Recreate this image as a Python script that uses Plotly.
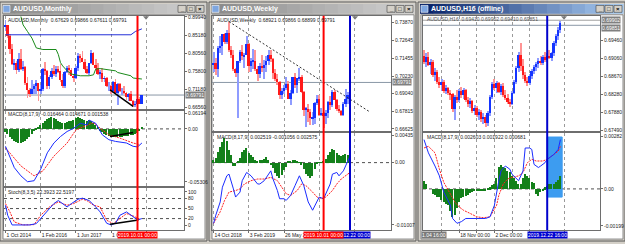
import plotly.graph_objects as go

W, H = 625, 244

# ================= DATA =================
# --- Window 1: AUDUSD,Monthly, bars Oct 2014 .. Dec 2019 ---
m_open = [0.8744, 0.8800, 0.8508, 0.8164, 0.7780, 0.7815, 0.7620, 0.7916, 0.7650, 0.7710,
          0.7300, 0.7110, 0.7020, 0.7130, 0.7230, 0.7290, 0.7080, 0.7140, 0.7660, 0.7600,
          0.7230, 0.7450, 0.7600, 0.7520, 0.7650, 0.7600, 0.7380, 0.7210, 0.7580, 0.7670,
          0.7640, 0.7480, 0.7430, 0.7690, 0.7990, 0.7950, 0.7840, 0.7650, 0.7560, 0.7800,
          0.8060, 0.7760, 0.7670, 0.7530, 0.7560, 0.7400, 0.7420, 0.7230, 0.7230, 0.7080,
          0.7310, 0.7040, 0.7270, 0.7100, 0.7100, 0.7050, 0.6940, 0.7020, 0.6840, 0.6740,
          0.6750, 0.6895, 0.6763]
m_high = [0.8910, 0.8800, 0.8550, 0.8290, 0.7910, 0.7855, 0.8075, 0.8160, 0.7850, 0.7740,
          0.7440, 0.7170, 0.7380, 0.7270, 0.7385, 0.7300, 0.7240, 0.7680, 0.7835, 0.7630,
          0.7505, 0.7675, 0.7760, 0.7730, 0.7730, 0.7780, 0.7535, 0.7600, 0.7740, 0.7750,
          0.7680, 0.7520, 0.7720, 0.8065, 0.8040, 0.8125, 0.7900, 0.7730, 0.7815, 0.8135,
          0.8090, 0.7915, 0.7810, 0.7620, 0.7680, 0.7480, 0.7450, 0.7315, 0.7240, 0.7340,
          0.7390, 0.7295, 0.7295, 0.7170, 0.7205, 0.7070, 0.7030, 0.7080, 0.6860, 0.6840,
          0.6930, 0.6930, 0.6987]
m_low = [0.8640, 0.8461, 0.8032, 0.7752, 0.7626, 0.7533, 0.7590, 0.7630, 0.7600, 0.7235,
         0.6907, 0.6935, 0.7015, 0.7015, 0.7015, 0.6827, 0.7010, 0.7085, 0.7500, 0.7145,
         0.7135, 0.7410, 0.7480, 0.7440, 0.7540, 0.7310, 0.7160, 0.7160, 0.7540, 0.7490,
         0.7470, 0.7330, 0.7410, 0.7600, 0.7810, 0.7830, 0.7620, 0.7530, 0.7500, 0.7790,
         0.7760, 0.7640, 0.7500, 0.7410, 0.7310, 0.7310, 0.7200, 0.7085, 0.7020, 0.7050,
         0.7020, 0.6740, 0.7070, 0.6990, 0.7000, 0.6865, 0.6830, 0.6860, 0.6680, 0.6670,
         0.6670, 0.6755, 0.6761]
m_close = [0.8800, 0.8508, 0.8164, 0.7780, 0.7815, 0.7620, 0.7916, 0.7650, 0.7710, 0.7300,
           0.7110, 0.7020, 0.7130, 0.7230, 0.7290, 0.7080, 0.7140, 0.7660, 0.7600, 0.7230,
           0.7450, 0.7600, 0.7520, 0.7650, 0.7600, 0.7380, 0.7210, 0.7580, 0.7670, 0.7640,
           0.7480, 0.7430, 0.7690, 0.7990, 0.7950, 0.7840, 0.7650, 0.7560, 0.7800, 0.8060,
           0.7760, 0.7670, 0.7530, 0.7560, 0.7400, 0.7420, 0.7230, 0.7230, 0.7080, 0.7310,
           0.7040, 0.7270, 0.7100, 0.7100, 0.7050, 0.6940, 0.7020, 0.6840, 0.6740, 0.6750,
           0.6895, 0.6763, 0.6979]
# green step average (bar index, price)
m_ma_x = [7, 8, 10, 12, 14, 17, 23, 24, 25, 26, 28, 30, 34, 38, 40, 41, 43, 50, 51, 57, 58, 62]
m_ma_y = [0.9000, 0.8784, 0.8614, 0.8445, 0.8192, 0.8151, 0.8151, 0.8024, 0.7812, 0.7728, 0.7602,
          0.7518, 0.7475, 0.7475, 0.7500, 0.7645, 0.7660, 0.7602, 0.7559, 0.7475, 0.7417, 0.7391]
# blue channel line
m_hi_x = [0, 57, 59, 62]
m_hi_y = [0.8530, 0.8530, 0.8614, 0.8683]
# black trend lines (index, value)
m_trend_x = [47.5, 58]
m_trend_price = [0.7113, 0.6690]
m_trend_macd = [-0.0075, -0.0036]
m_trend_stoch_x = [47.5, 60.4]
m_trend_stoch = [3, 16]
# MACD (monthly)
m_hist = [-0.003, -0.005, -0.008, -0.010, -0.012, -0.013, -0.014, -0.014, -0.013, -0.012,
          -0.010, -0.008, -0.005, -0.002, 0.001, 0.002, 0.004, 0.006, 0.008, 0.010,
          0.011, 0.012, 0.011, 0.010, 0.008, 0.007, 0.006, 0.006, 0.007, 0.008,
          0.008, 0.009, 0.011, 0.012, 0.011, 0.010, 0.009, 0.008, 0.009, 0.008,
          0.006, 0.004, 0.002, -0.001, -0.003, -0.005, -0.006, -0.007, -0.007, -0.0075,
          -0.0075, -0.008, -0.008, -0.0075, -0.007, -0.007, -0.0065, -0.006, -0.0055, -0.005,
          -0.004, -0.002, 0.002]
m_macd_x = [0, 2, 4, 7, 10, 13, 16, 19, 22, 25, 28, 31, 34, 37, 38, 41, 44, 47, 50, 55, 58, 60, 62]
m_macd_y = [-0.0174, -0.0272, -0.0387, -0.0469, -0.0528, -0.0518, -0.0403, -0.0239, -0.0141, -0.0076,
            -0.0026, 0.0007, 0.0056, 0.0039, 0.0088, 0.0056, -0.0059, -0.0108, -0.0125, -0.0141,
            -0.0174, -0.0180, -0.0141]
m_sig_x = [0, 4, 7, 13, 17, 22, 28, 32, 37, 40, 43, 47, 52, 58, 61]
m_sig_y = [-0.0190, -0.0288, -0.0370, -0.0469, -0.0420, -0.0272, -0.0141, -0.0010, 0.0039, 0.0062,
           0.0007, -0.0059, -0.0092, -0.0141, -0.0157]
# Stochastic (monthly)
m_k_x = [0, 1, 3, 7, 11, 14, 16, 19, 22, 24, 26, 28, 30, 33, 35, 38, 41, 43, 46, 48, 50, 52, 55, 58, 60, 62]
m_k_y = [60, 30, 1, 0, 1, 5, 20, 40, 65, 74, 65, 55, 65, 78, 81, 74, 55, 40, 6, 1, 6, 30, 40, 25, 16, 20]
m_d_x = [0, 2, 4, 8, 13, 16, 20, 24, 28, 31, 35, 37, 40, 43, 46, 49, 52, 55, 58, 61]
m_d_y = [65, 40, 10, 1, 2, 30, 55, 70, 60, 65, 78, 74, 60, 55, 15, 5, 20, 35, 28, 18]
m_time_idx = [0, 16, 32, 48, 64]
m_time_txt = ["1 Oct 2014", "1 Feb 2016", "1 Jun 2017", "1 Oct 2018", ""]
m_price_ticks = [0.89940, 0.85180, 0.80560, 0.75800, 0.71180, 0.66560]
m_vline = 60

# --- Window 2: AUDUSD,Weekly, weeks from 7 Oct 2018 .. 22 Dec 2019 ---
w_open = [0.7075, 0.7100, 0.7110, 0.7075, 0.7215, 0.7230, 0.7310, 0.7255, 0.7320, 0.7200,
          0.7165, 0.7070, 0.7045, 0.7125, 0.7190, 0.7160, 0.7170, 0.7245, 0.7090, 0.7125,
          0.7130, 0.7070, 0.7040, 0.7090, 0.7080, 0.7100, 0.7125, 0.7165, 0.7140, 0.7045,
          0.7005, 0.6985, 0.6895, 0.6920, 0.6945, 0.6970, 0.6870, 0.6910, 0.7020, 0.6965,
          0.7010, 0.7020, 0.6915, 0.6795, 0.6800, 0.6780, 0.6735, 0.6740, 0.6840, 0.6870,
          0.6760, 0.6770, 0.6755, 0.6775, 0.6850, 0.6825, 0.6915, 0.6860, 0.6800, 0.6785,
          0.6760, 0.6835, 0.6870, 0.6892]
w_high = [0.7150, 0.7190, 0.7150, 0.7230, 0.7300, 0.7310, 0.7320, 0.7340, 0.7394, 0.7230,
          0.7200, 0.7080, 0.7060, 0.7205, 0.7235, 0.7180, 0.7295, 0.7250, 0.7150, 0.7210,
          0.7205, 0.7095, 0.7110, 0.7170, 0.7135, 0.7160, 0.7205, 0.7205, 0.7145, 0.7070,
          0.7040, 0.6990, 0.6945, 0.6965, 0.7020, 0.6990, 0.6930, 0.7020, 0.7045, 0.7010,
          0.7082, 0.7030, 0.6925, 0.6810, 0.6835, 0.6800, 0.6780, 0.6845, 0.6895, 0.6895,
          0.6805, 0.6780, 0.6795, 0.6855, 0.6890, 0.6930, 0.6930, 0.6870, 0.6830, 0.6795,
          0.6850, 0.6935, 0.6915, 0.6987]
w_low = [0.7040, 0.7050, 0.7030, 0.7020, 0.7180, 0.7165, 0.7240, 0.7240, 0.7190, 0.7150,
         0.7060, 0.7015, 0.6740, 0.7110, 0.7135, 0.7080, 0.7165, 0.7055, 0.7055, 0.7070,
         0.7060, 0.6990, 0.7010, 0.7050, 0.7005, 0.7050, 0.7100, 0.7120, 0.7005, 0.6990,
         0.6960, 0.6865, 0.6865, 0.6905, 0.6930, 0.6865, 0.6830, 0.6905, 0.6940, 0.6910,
         0.6990, 0.6910, 0.6750, 0.6680, 0.6710, 0.6690, 0.6690, 0.6700, 0.6830, 0.6755,
         0.6750, 0.6670, 0.6700, 0.6740, 0.6795, 0.6810, 0.6860, 0.6785, 0.6770, 0.6755,
         0.6755, 0.6810, 0.6835, 0.6890]
w_close = [0.7100, 0.7110, 0.7075, 0.7215, 0.7230, 0.7310, 0.7255, 0.7320, 0.7200, 0.7165,
           0.7070, 0.7045, 0.7125, 0.7190, 0.7160, 0.7170, 0.7245, 0.7090, 0.7125, 0.7130,
           0.7070, 0.7040, 0.7090, 0.7080, 0.7100, 0.7125, 0.7165, 0.7140, 0.7045, 0.7005,
           0.6985, 0.6895, 0.6920, 0.6945, 0.6970, 0.6870, 0.6910, 0.7020, 0.6965, 0.7010,
           0.7020, 0.6915, 0.6795, 0.6800, 0.6780, 0.6735, 0.6740, 0.6840, 0.6870, 0.6760,
           0.6770, 0.6755, 0.6775, 0.6850, 0.6825, 0.6915, 0.6860, 0.6800, 0.6785, 0.6760,
           0.6835, 0.6870, 0.6892, 0.6979]
w_hist = [0.0003, 0.0005, 0.0008, 0.0018, 0.0026, 0.0034, 0.0040, 0.0036, 0.0021, 0.0013,
          -0.0005, -0.0005, 0.0003, 0.0008, 0.0018, 0.0021, 0.0024, 0.0016, 0.0012, 0.0009,
          0.0004, 0.0003, 0.0005, 0.0004, 0.0006, 0.0009, 0.0004, -0.0004, -0.0008, -0.0016,
          -0.0022, -0.0024, -0.0020, -0.0012, -0.0006, 0.0002, 0.0003, 0.0005, 0.0004, 0.0003,
          0.0001, -0.0003, -0.0010, -0.0018, -0.0022, -0.0024, -0.0021, -0.0010, -0.0002, 0.0001,
          0.0001, 0.0003, 0.0006, 0.0012, 0.0018, 0.0022, 0.0020, 0.0016, 0.0013, 0.0011,
          0.0013, 0.0014, 0.0012, 0.0026]
w_macd_x = [1, 2, 4, 5, 7, 8, 10, 11, 13, 14, 16, 18, 21, 22, 24, 27, 28, 30, 31, 33, 34, 36, 38,
            40, 42, 44, 46, 48, 49, 51, 52, 54, 55, 57, 58, 60, 61, 63]
w_macd_y = [-0.0098, -0.00848, -0.00635, -0.00397, -0.00213, -0.00186, -0.00424, -0.00556, -0.00476,
            -0.00292, -0.00159, -0.00213, -0.00345, -0.00345, -0.00292, -0.00133, -0.00265, -0.00451,
            -0.00583, -0.00583, -0.0061, -0.0053, -0.00372, -0.00213, -0.00372, -0.00635, -0.00769,
            -0.0061, -0.00556, -0.00583, -0.00503, -0.00345, -0.00186, -0.00159, -0.00213, -0.00133,
            -0.00054, 0.00105]
w_sig_x = [1, 4, 6, 8, 11, 13, 15, 18, 21, 24, 27, 30, 32, 34, 36, 39, 41, 43, 46, 48, 50, 52, 55,
           57, 59, 61, 63]
w_sig_y = [-0.0098, -0.00794, -0.0061, -0.00476, -0.00451, -0.00424, -0.00345, -0.00292, -0.00265,
           -0.00265, -0.00238, -0.00292, -0.00397, -0.00503, -0.0053, -0.00451, -0.00345, -0.00372,
           -0.00476, -0.00556, -0.00583, -0.00556, -0.00451, -0.00345, -0.00265, -0.00213, -0.00159]
w_trend_x = [8, 72]
w_trend_y = [0.7394, 0.6778]
w_time_idx = [1, 17, 33, 49, 65]
w_time_txt = ["14 Oct 2018", "3 Feb 2019", "26 May 2019", "", ""]
w_price_ticks = [0.73870, 0.72645, 0.71455, 0.70230, 0.69040, 0.67815, 0.66625]
w_vline_red, w_vline_blue = 51, 63

# --- Window 3: AUDUSD,H16 (offline), bars from 2019.11.04 16:00 ---
h_open = [0.6912, 0.6898, 0.6910, 0.6893, 0.6900, 0.6870, 0.6878, 0.6855, 0.6848, 0.6856,
          0.6835, 0.6842, 0.6830, 0.6828, 0.6795, 0.6822, 0.6815, 0.6836, 0.6826, 0.6838,
          0.6816, 0.6806, 0.6814, 0.6792, 0.6799, 0.6782, 0.6790, 0.6773, 0.6779, 0.6764,
          0.6788, 0.6822, 0.6850, 0.6842, 0.6853, 0.6834, 0.6846, 0.6826, 0.6820, 0.6812,
          0.6806, 0.6832, 0.6856, 0.6885, 0.6915, 0.6890, 0.6870, 0.6858, 0.6852, 0.6868,
          0.6880, 0.6888, 0.6894, 0.6902, 0.6897, 0.6910, 0.6904, 0.6912, 0.6908, 0.6918,
          0.6940, 0.6955, 0.6970]
h_high = [0.6925, 0.6918, 0.6922, 0.6905, 0.6904, 0.6885, 0.6882, 0.6866, 0.6862, 0.6860,
          0.6848, 0.6845, 0.6838, 0.6830, 0.6826, 0.6838, 0.6840, 0.6845, 0.6842, 0.6840,
          0.6822, 0.6820, 0.6816, 0.6805, 0.6802, 0.6796, 0.6793, 0.6786, 0.6782, 0.6792,
          0.6826, 0.6856, 0.6862, 0.6858, 0.6856, 0.6850, 0.6852, 0.6838, 0.6828, 0.6818,
          0.6835, 0.6860, 0.6890, 0.6920, 0.6940, 0.6905, 0.6878, 0.6866, 0.6872, 0.6884,
          0.6893, 0.6898, 0.6908, 0.6912, 0.6915, 0.6920, 0.6918, 0.6925, 0.6922, 0.6945,
          0.6960, 0.6975, 0.6990]
h_low = [0.6895, 0.6888, 0.6890, 0.6872, 0.6866, 0.6858, 0.6850, 0.6842, 0.6835, 0.6830,
         0.6828, 0.6826, 0.6815, 0.6790, 0.6772, 0.6810, 0.6812, 0.6820, 0.6818, 0.6812,
         0.6800, 0.6798, 0.6788, 0.6782, 0.6778, 0.6772, 0.6768, 0.6762, 0.6756, 0.6758,
         0.6780, 0.6818, 0.6838, 0.6832, 0.6830, 0.6826, 0.6822, 0.6815, 0.6806, 0.6800,
         0.6804, 0.6828, 0.6850, 0.6878, 0.6880, 0.6862, 0.6852, 0.6846, 0.6848, 0.6862,
         0.6872, 0.6880, 0.6886, 0.6893, 0.6892, 0.6900, 0.6898, 0.6905, 0.6902, 0.6912,
         0.6935, 0.6948, 0.6962]
h_close = [0.6898, 0.6910, 0.6893, 0.6900, 0.6870, 0.6878, 0.6855, 0.6848, 0.6856, 0.6835,
           0.6842, 0.6830, 0.6828, 0.6795, 0.6822, 0.6815, 0.6836, 0.6826, 0.6838, 0.6816,
           0.6806, 0.6814, 0.6792, 0.6799, 0.6782, 0.6790, 0.6773, 0.6779, 0.6764, 0.6788,
           0.6822, 0.6850, 0.6842, 0.6853, 0.6834, 0.6846, 0.6826, 0.6820, 0.6812, 0.6806,
           0.6832, 0.6856, 0.6885, 0.6915, 0.6890, 0.6870, 0.6858, 0.6852, 0.6868, 0.6880,
           0.6888, 0.6894, 0.6902, 0.6897, 0.6910, 0.6904, 0.6912, 0.6908, 0.6918, 0.6940,
           0.6955, 0.6970, 0.6985]
h_hist = [0.00044, 0.0003, 0.0, 0.0, -0.00026, -0.0003, -0.0004, -0.00044, -0.0006, -0.0007,
          -0.0008, -0.00088, -0.0012, -0.0015, -0.0014, -0.0010, -0.0007, -0.0005, -0.0004, -0.00035,
          -0.0003, -0.0002, -0.00015, -0.0001, -0.0001, -0.00009, -0.00005, -0.0001, -0.00005, 0.00002,
          0.0001, 0.0002, 0.00026, 0.0006, 0.0012, 0.00132, 0.0012, 0.00115, 0.00097, 0.0009,
          0.0007, 0.0006, 0.00045, 0.0003, 0.00026, 0.0006, 0.00079, 0.0007, 0.00062, 0.0004,
          0.00035, -0.00026, -0.00035, -0.00015, -0.0001, 0.0001, 0.00015, 0.00026, 0.0003, 0.0003,
          0.0004, 0.0005, 0.0007]
h_macd_x = [0, 2, 5, 7, 9, 12, 13, 15, 17, 19, 24, 28, 30, 32, 34, 35, 37, 39, 40, 42, 43, 45,
            46, 48, 49, 50, 52, 53, 55, 56, 58, 59, 61, 62]
h_macd_y = [0.00265, 0.00194, 0.00123, 0.0007, -0.00018, -0.00088, -0.00159, -0.00185, -0.00176,
            -0.00159, -0.00159, -0.00159, -0.0015, -0.00088, 0.00044, 0.00097, 0.00123, 0.00106,
            0.00079, 0.00053, 0.00044, 0.00097, 0.0022, 0.0022, 0.00212, 0.00132, 0.00115, 0.00123,
            0.00141, 0.00159, 0.00176, 0.00185, 0.00212, 0.00265]
h_sig_x = [0, 2, 5, 7, 9, 12, 14, 16, 18, 21, 24, 27, 30, 33, 34, 36, 38, 40, 43, 45, 47, 49, 51,
           54, 56, 58, 61, 62]
h_sig_y = [0.0022, 0.00229, 0.00194, 0.00106, 0.00035, -0.00026, -0.0007, -0.00097, -0.00115,
           -0.00132, -0.0015, -0.00155, -0.0015, -0.00088, -0.00035, 0.00026, 0.00053, 0.00062,
           0.0007, 0.00088, 0.00141, 0.00159, 0.0015, 0.0015, 0.00159, 0.00176, 0.00203, 0.00229]
h_box_x = [56, 62.8]
h_box_y = [-0.00044, 0.00279]
h_time_idx = [8, 16, 24, 32, 40, 48, 56, 64]
h_time_txt = ["", "18 Nov 00:00", "", "2 Dec 00:00", "", "", "", ""]
h_price_ticks = [0.69460, 0.69060, 0.68670, 0.68280, 0.67880, 0.67490]
h_vline = 56
h_bid, h_ask = 0.69791, 0.69902

last_price = 0.69791

# ================= STYLE =================
UP, DN = "#1434ff", "#ff1a1a"
WICK_UP, WICK_DN = "#8f9cff", "#ff9494"
HIST = "#13801a"
FRAME = "#6e6e6e"
FONT = "Liberation Sans"
TXT = "#222222"


def px_x(p):
    return p / W


def px_y(p):
    return 1 - p / H


fig = go.Figure()
shapes, annos = [], []


def rect(x0, y0, x1, y1, fill="rgba(0,0,0,0)", line=None, lw=1, layer="below"):
    shapes.append(dict(type="rect", xref="paper", yref="paper", x0=px_x(x0), x1=px_x(x1),
                       y0=px_y(y1), y1=px_y(y0), fillcolor=fill, layer=layer,
                       line=dict(color=line if line else "rgba(0,0,0,0)", width=lw if line else 0)))


def label(x, y, s, size=5, color=TXT, xanchor="left", bg=None, bold=False,
          xref="paper", yref="paper"):
    txt = "<b>%s</b>" % s if bold else s
    annos.append(dict(x=x, y=y, xref=xref, yref=yref, text=txt, showarrow=False,
                      xanchor=xanchor, yanchor="middle", bgcolor=bg, borderpad=0,
                      font=dict(family=FONT, size=size, color=color)))


def lerp_col(c1, c2, t):
    a = [int(c1[i:i + 2], 16) for i in (1, 3, 5)]
    b = [int(c2[i:i + 2], 16) for i in (1, 3, 5)]
    return "#%02x%02x%02x" % tuple(int(a[k] + (b[k] - a[k]) * t) for k in range(3))


# ----- window chrome -----
windows = [(0, 207, "AUDUSD,Monthly", False), (209, 416, "AUDUSD,Weekly", False),
           (418, 625, "AUDUSD,H16 (offline)", True)]
for x0, x1, title, active in windows:
    rect(x0, 0, x1, 243, fill="#d4d0c8", line="#5a5a5a")
    c1, c2 = ("#0a246a", "#a6caf0") if active else ("#8c8c8c", "#d0d0d0")
    n = 16
    tx0, tx1 = x0 + 2, x1 - 2
    for k in range(n):
        a = tx0 + (tx1 - tx0) * k / n
        b = tx0 + (tx1 - tx0) * (k + 1) / n + 0.6
        rect(a, 2, b, 12, fill=lerp_col(c1, c2, k / (n - 1)))
    rect(x0 + 3, 3.5, x0 + 10, 10.5, fill="#7ea6e0", line="#ffffff", lw=0.6)
    label(px_x(x0 + 12), px_y(7.2), title, size=7, color="#ffffff", bold=True)
    for k, g in enumerate(["_", "\u25a1", "\u00d7"]):
        bx = x1 - 29 + k * 9
        rect(bx, 3.5, bx + 8, 10.5, fill="#d4d0c8", line="#404040", lw=0.6)
        label(px_x(bx + 4), px_y(7), g, size=6, color="#000000", xanchor="center", bold=True)
    rect(x0 + 3, 13, x1 - 2, 241, fill="#ffffff", line="#8a8a8a")


# ----- axes helpers -----
def x_range(left_px, right_px, idx0_px, step):
    return [(left_px - idx0_px) / step, (right_px - idx0_px) / step]


def xcfg(dom, rng, anchor, tickvals, ticktext=None):
    d = dict(domain=[px_x(dom[0]), px_x(dom[1])], range=rng, anchor=anchor,
             showline=True, mirror=True, linecolor=FRAME, linewidth=1,
             showgrid=True, gridcolor="#9a9a9a", griddash="dot", gridwidth=1,
             zeroline=False, tickmode="array", tickvals=tickvals, fixedrange=True,
             rangeslider=dict(visible=False), tickangle=0)
    if ticktext is None:
        d.update(showticklabels=False, ticks="")
    else:
        d.update(ticktext=ticktext, showticklabels=True, ticks="outside", ticklen=2,
                 tickcolor=FRAME, ticklabelposition="outside right",
                 tickfont=dict(family=FONT, size=5, color=TXT))
    return d


def ycfg(dom, rng, anchor, tickvals, ticktext):
    return dict(domain=[px_y(dom[1]), px_y(dom[0])], range=rng, anchor=anchor, side="right",
                showline=True, mirror=True, linecolor=FRAME, linewidth=1, showgrid=False,
                zeroline=False, tickmode="array", tickvals=tickvals, ticktext=ticktext,
                ticks="outside", ticklen=2, tickcolor=FRAME,
                tickfont=dict(family=FONT, size=5, color=TXT), fixedrange=True)


def candles(o, h, l, c, xa, ya):
    idx = list(range(len(o)))
    up = [b >= a for a, b in zip(o, c)]
    fig.add_trace(go.Bar(x=idx, y=[hh - ll for hh, ll in zip(h, l)], base=l, width=0.42,
                         xaxis=xa, yaxis=ya,
                         marker=dict(color=[WICK_UP if u else WICK_DN for u in up], line=dict(width=0)),
                         showlegend=False, hoverinfo="skip"))
    base = [min(a, b) for a, b in zip(o, c)]
    size = [abs(b - a) for a, b in zip(o, c)]
    fig.add_trace(go.Bar(x=idx, y=size, base=base, width=0.85, xaxis=xa, yaxis=ya,
                         marker=dict(color=[UP if u else DN for u in up], line=dict(width=0)),
                         showlegend=False, hoverinfo="skip"))


def hist(vals, xa, ya):
    fig.add_trace(go.Bar(x=list(range(len(vals))), y=vals, width=0.7, xaxis=xa, yaxis=ya,
                         marker=dict(color=HIST, line=dict(width=0)),
                         showlegend=False, hoverinfo="skip"))


def line(xs, ys, xa, ya, color, dash=None, width=1):
    fig.add_trace(go.Scatter(x=xs, y=ys, mode="lines", xaxis=xa, yaxis=ya,
                             line=dict(color=color, width=width, dash=dash),
                             showlegend=False, hoverinfo="skip"))


def level(xa, ya, val, color="#505050"):
    shapes.append(dict(type="line", xref=xa + " domain", yref=ya, x0=0, x1=1, y0=val, y1=val,
                       line=dict(color=color, width=1, dash="dot"), layer="below"))


def vline(xa, idx, top, bottom, color, width=2):
    shapes.append(dict(type="line", xref=xa, yref="paper", x0=idx, x1=idx,
                       y0=px_y(bottom), y1=px_y(top), line=dict(color=color, width=width),
                       layer="above"))


def shift_marker(xpx):
    shapes.append(dict(type="path", xref="paper", yref="paper",
                       path="M %f %f L %f %f L %f %f Z" % (px_x(xpx - 3), px_y(14.5), px_x(xpx + 3),
                                                         px_y(14.5), px_x(xpx), px_y(18)),
                       fillcolor="#7a7a7a", line=dict(width=0), layer="above"))


def hline(xa, ya, val, color="#8a97a6"):
    shapes.append(dict(type="line", xref=xa + " domain", yref=ya, x0=0, x1=1, y0=val, y1=val,
                       line=dict(color=color, width=1), layer="below"))


def fmt(v, d=5):
    return ("%." + str(d) + "f") % v


layout = {}

# ================= WINDOW 1 =================
X1 = (4, 184)
r1 = x_range(X1[0], X1[1], 5.5, 2.2)
p_scale1 = 395.0
layout["xaxis"] = xcfg(X1, r1, "y", m_time_idx)
layout["xaxis2"] = xcfg(X1, r1, "y2", m_time_idx)
layout["xaxis3"] = xcfg(X1, r1, "y3", m_time_idx, m_time_txt)
layout["yaxis"] = ycfg((14, 108.5), [0.8994 - 93.5 / p_scale1, 0.8994 + 1 / p_scale1], "x",
                       m_price_ticks, [fmt(v) for v in m_price_ticks])
layout["yaxis2"] = ycfg((110.5, 187), [-0.0570, 0.0182], "x2", [0.0157, 0.0, -0.05306],
                        ["0.06194", "0.00", "-0.05306"])
layout["yaxis3"] = ycfg((189, 232), [-14.7, 111.8], "x3", [100, 80, 50, 20, 0],
                        ["100", "80", "50", "20", "0"])

hline("x", "y", last_price)
candles(m_open, m_high, m_low, m_close, "x", "y")
line(m_ma_x, m_ma_y, "x", "y", "#1a8a1a")
line(m_hi_x, m_hi_y, "x", "y", "#2430d8")
line(m_trend_x, m_trend_price, "x", "y", "#000000", width=1.5)
level("x2", "y2", 0.0)
hist(m_hist, "x2", "y2")
line(m_sig_x, m_sig_y, "x2", "y2", "#ff2020", dash="2px,1px")
line(m_macd_x, m_macd_y, "x2", "y2", "#1a2cff")
line(m_trend_x, m_trend_macd, "x2", "y2", "#000000", width=1.5)
for lv in (80, 50, 20):
    level("x3", "y3", lv)
line(m_d_x, m_d_y, "x3", "y3", "#ff2020", dash="2px,1px")
line(m_k_x, m_k_y, "x3", "y3", "#1a2cff")
line(m_trend_stoch_x, m_trend_stoch, "x3", "y3", "#000000", width=1.5)
vline("x", m_vline, 14, 232, "#ff0000")
shift_marker(146)

label(px_x(7), px_y(18.5), "AUDUSD,Monthly  0.67629 0.69866 0.67611 0.69791", size=5)
label(px_x(7), px_y(114), "MACD(8,17,9) -0.016464 0.014671 0.001538", size=5)
label(px_x(7), px_y(193), "Stoch(8,3,5) 22.3923 22.5197", size=5)
label(px_x(185), last_price, fmt(last_price), size=5, color="#ffffff", bg="#808080", yref="y")
label(m_vline, px_y(236.5), "2019.10.01 00:00", size=5, color="#ffffff", bg="#ff0000",
      xanchor="center", xref="x3")

# ================= WINDOW 2 =================
X2 = (212, 391)
r2 = x_range(X2[0], X2[1], 211.4, 2.2)
p_scale2 = 1490.0
layout["xaxis4"] = xcfg(X2, r2, "y4", w_time_idx)
layout["xaxis5"] = xcfg(X2, r2, "y5", w_time_idx, w_time_txt)
layout["yaxis4"] = ycfg((14, 131), [0.7387 - 110 / p_scale2, 0.7387 + 7 / p_scale2], "x4",
                        w_price_ticks, [fmt(v) for v in w_price_ticks])
layout["yaxis5"] = ycfg((133, 232), [-0.01091, 0.00481], "x5", [0.00435, 0.0, -0.01007],
                        ["0.00435", "0.00", "-0.01007"])

hline("x4", "y4", last_price)
candles(w_open, w_high, w_low, w_close, "x4", "y4")
line(w_trend_x, w_trend_y, "x4", "y4", "#333333", dash="2px,2px")
level("x5", "y5", 0.0)
hist(w_hist, "x5", "y5")
line(w_sig_x, w_sig_y, "x5", "y5", "#ff2020", dash="2px,1px")
line(w_macd_x, w_macd_y, "x5", "y5", "#1a2cff")
vline("x4", w_vline_red, 14, 232, "#ff0000")
vline("x4", w_vline_blue, 14, 232, "#0000cc")
shift_marker(355)

label(px_x(216), px_y(18.5), "AUDUSD,Weekly  0.68921 0.69866 0.68899 0.69791", size=5)
label(px_x(216), px_y(137), "MACD(8,17,9) 0.002519 -0.001056 0.002575", size=5)
label(px_x(392), last_price, fmt(last_price), size=5, color="#ffffff", bg="#808080", yref="y4")
label(w_vline_blue, px_y(236.5), "2019.12.22 00:00", size=5, color="#ffffff", bg="#0000d0",
      xanchor="center", xref="x5")
label(w_vline_red, px_y(236.5), "2019.10.01 00:00", size=5, color="#ffffff", bg="#ff0000",
      xanchor="center", xref="x5")

# ================= WINDOW 3 =================
X3 = (423, 600)
r3 = x_range(X3[0], X3[1], 424, 2.2)
p_scale3 = 4630.0
layout["xaxis6"] = xcfg(X3, r3, "y6", h_time_idx)
layout["xaxis7"] = xcfg(X3, r3, "y7", h_time_idx, h_time_txt)
layout["yaxis6"] = ycfg((14, 131), [0.6946 - 92 / p_scale3, 0.6946 + 25 / p_scale3], "x6",
                        h_price_ticks, [fmt(v) for v in h_price_ticks])
layout["yaxis7"] = ycfg((133, 232), [-0.00222, 0.003016], "x7", [0.00282, 0.0, -0.00199],
                        ["0.00282", "0.00", "-0.00199"])

hline("x6", "y6", h_ask, color="#a0a0a0")
hline("x6", "y6", h_bid, color="#8a97a6")
candles(h_open, h_high, h_low, h_close, "x6", "y6")
shapes.append(dict(type="rect", xref="x7", yref="y7", x0=h_box_x[0], x1=h_box_x[1],
                   y0=h_box_y[0], y1=h_box_y[1], fillcolor="#3d9cf0",
                   line=dict(color="#3d9cf0", width=1), layer="below"))
level("x7", "y7", 0.0)
hist(h_hist, "x7", "y7")
line(h_sig_x, h_sig_y, "x7", "y7", "#ff2020", dash="2px,1px")
line(h_macd_x, h_macd_y, "x7", "y7", "#1a2cff")
vline("x6", h_vline, 14, 232, "#0000cc")
shift_marker(564)

label(px_x(426), px_y(17.5), "AUDUSD,H16  0.69410 0.69902 0.69410 0.69851", size=5, color="#555555")
label(px_x(426), px_y(137), "MACD(8,17,9) 0.002603 0.001922 0.000681", size=5)
label(px_x(601), h_ask, fmt(h_ask), size=5, color="#ffffff", bg="#808080", yref="y6")
label(px_x(601), h_bid - 0.0006, "0.69851", size=5, color="#ffffff", bg="#808080", yref="y6")
label(h_vline, px_y(236.5), "2019.12.22 16:00", size=5, color="#ffffff", bg="#0000d0",
      xanchor="center", xref="x7")
label(px_x(421), px_y(236.5), "1.04 16:00", size=5, color="#ffffff", bg="#7a7a7a")

fig.update_layout(
    width=W, height=H, margin=dict(l=0, r=0, t=0, b=0, pad=0),
    paper_bgcolor="#d4d0c8", plot_bgcolor="rgba(0,0,0,0)",
    showlegend=False, barmode="overlay", bargap=0,
    shapes=shapes, annotations=annos, **layout)

fig.write_html("out.html")
